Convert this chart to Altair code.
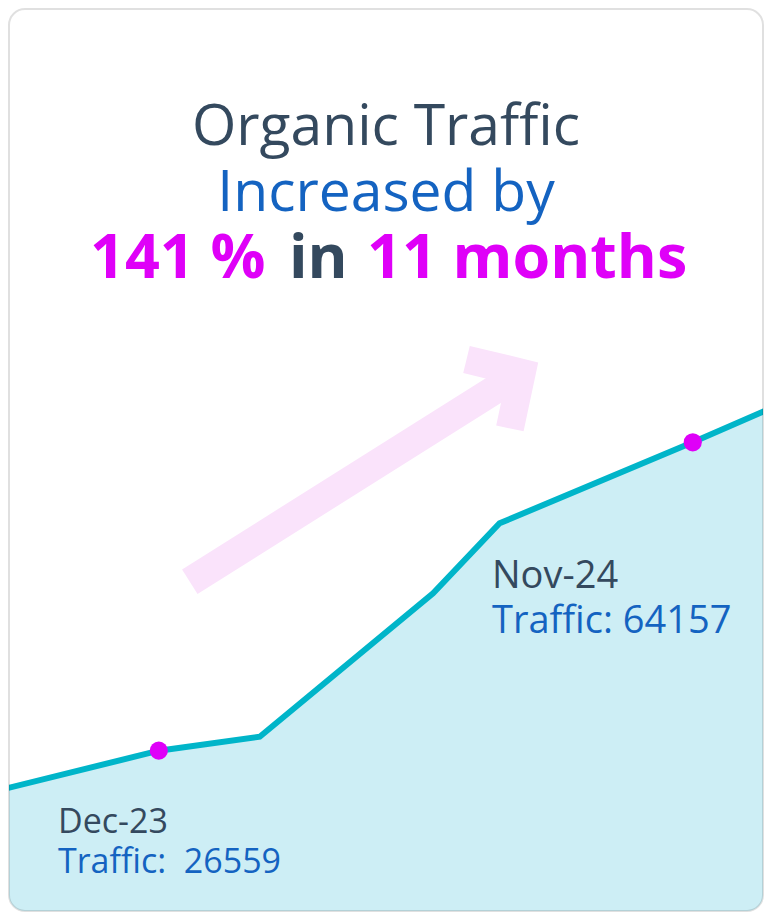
import altair as alt
import pandas as pd

# ---- data ----
months = [-3.27, 0.0, 2.08, 5.65, 7.02, 11.0, 12.53]          # months after Dec-23
traffic = [21768, 26559, 28266, 45748, 54281, 64157, 68095]

mark_month = [0.0, 11.0]
mark_traffic = [26559, 64157]
mark_date = ["Dec-23", "Nov-24"]
mark_text = ["Traffic:\u00a0 26559", "Traffic: 64157"]

# decorative arrow (pixel units of the card)
shaft_x = [181.8, 513.7]
shaft_y = [573.7, 364.8]
head_x = [458.5, 513.7, 501.9]
head_y = [351.5, 364.8, 420.4]

W, H = 756, 904
XDOM = [-3.106, 12.467]
YDOM = [6895, 117102]

DARK = "#34495e"
BLUE = "#1463c1"
MAGENTA = "#df00f8"
TEAL = "#00b5c9"
AREA = "#cdeef5"
PINK = "#fae3fb"
FONT = "Open Sans"

line_df = pd.DataFrame({"month": months, "traffic": traffic})
pts_df = pd.DataFrame({"month": mark_month, "traffic": mark_traffic,
                       "date": mark_date, "label": mark_text, "i": [0, 1]})

xs = alt.Scale(domain=XDOM, nice=False, zero=False)
ys = alt.Scale(domain=YDOM, nice=False, zero=False)
X = alt.X("month:Q", scale=xs, axis=None)
Y = alt.Y("traffic:Q", scale=ys, axis=None)

area = alt.Chart(line_df).mark_area(color=AREA, clip=True, interpolate="linear").encode(
    x=X, y=Y, y2=alt.datum(YDOM[0]))
line = alt.Chart(line_df).mark_line(color=TEAL, strokeWidth=6, clip=True).encode(x=X, y=Y)
dots = alt.Chart(pts_df).mark_circle(color=MAGENTA, opacity=1, size=330).encode(x=X, y=Y)

def lbl(i, field, dx, dy, fs, color):
    return alt.Chart(pts_df).transform_filter(alt.datum.i == i).mark_text(
        align="left", baseline="alphabetic", dx=dx, dy=dy, fontSize=fs,
        font=FONT, color=color).encode(x=X, y=Y, text=f"{field}:N")

labels = [
    lbl(0, "date", -100.8, 82.6, 34, DARK),
    lbl(0, "label", -100.8, 122.6, 34, BLUE),
    lbl(1, "date", -200.8, 146, 38, DARK),
    lbl(1, "label", -200.8, 191, 38, BLUE),
]

main = alt.layer(area, line, dots, *labels)

# arrow (pixel scales)
px = alt.Scale(domain=[0, W], nice=False, zero=False)
py = alt.Scale(domain=[H, 0], nice=False, zero=False)
shaft_df = pd.DataFrame({"x": shaft_x, "y": shaft_y, "o": [0, 1]})
head_df = pd.DataFrame({"x": head_x, "y": head_y, "o": [0, 1, 2]})
shaft = alt.Chart(shaft_df).mark_line(color=PINK, strokeWidth=29, strokeCap="butt").encode(
    x=alt.X("x:Q", scale=px, axis=None), y=alt.Y("y:Q", scale=py, axis=None), order="o:Q")
head = alt.Chart(head_df).mark_line(color=PINK, strokeWidth=28, strokeCap="butt",
                                    strokeJoin="miter").encode(
    x=alt.X("x:Q", scale=px, axis=None), y=alt.Y("y:Q", scale=py, axis=None), order="o:Q")
arrow = alt.layer(shaft, head)

base = alt.Chart(pd.DataFrame({"a": [0]}))
mask = base.mark_rect(fill=None, stroke="white", strokeWidth=20, cornerRadius=26).encode(
    x=alt.value(-9), x2=alt.value(W + 9), y=alt.value(-9), y2=alt.value(H + 9))
card = base.mark_rect(fill=None, stroke="#000000", strokeOpacity=0.12, strokeWidth=2,
                      cornerRadius=16).encode(
    x=alt.value(1), x2=alt.value(W - 1), y=alt.value(1), y2=alt.value(H - 1))

def title_text(txt, x, y, fs, color, weight="normal", align="center"):
    return base.mark_text(text=txt, align=align, baseline="alphabetic", fontSize=fs,
                          font=FONT, color=color, fontWeight=weight).encode(
        x=alt.value(x), y=alt.value(y))

titles = [
    title_text("Organic Traffic", 378, 137, 57, DARK),
    title_text("Increased by", 378, 203, 57, BLUE),
    title_text("141 %", 82, 270, 61, MAGENTA, "bold", "left"),
    title_text("in", 281, 270, 61, DARK, "bold", "left"),
    title_text("11 months", 359, 270, 61, MAGENTA, "bold", "left"),
]

chart = alt.layer(arrow, main, mask, card, *titles).resolve_scale(
    x="independent", y="independent").properties(
    width=W, height=H, padding=0, autosize=alt.AutoSizeParams(type="none"),
    background="white").configure_view(stroke=None)

chart.save("out.html", embed_options={"renderer": "svg", "actions": False})
